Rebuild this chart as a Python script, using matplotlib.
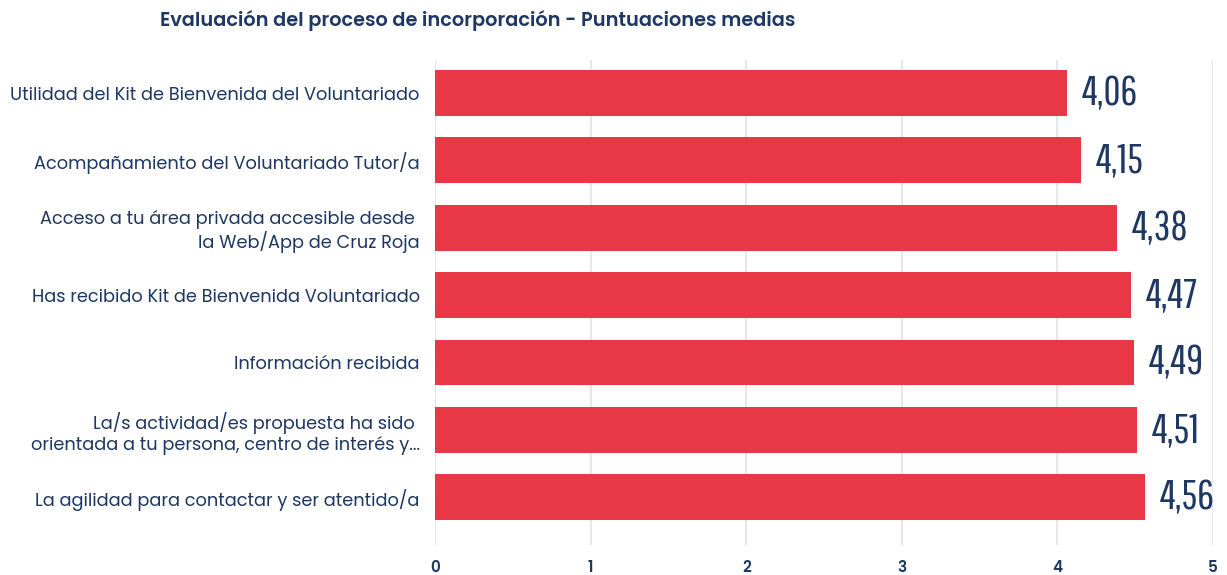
import matplotlib
matplotlib.use("Agg")
import matplotlib.pyplot as plt
import numpy as np

categories = [
    "Utilidad del Kit de Bienvenida del Voluntariado",
    "Acompañamiento del Voluntariado Tutor/a",
    "Acceso a tu área privada accesible desde \nla Web/App de Cruz Roja",
    "Has recibido Kit de Bienvenida Voluntariado",
    "Información recibida",
    "La/s actividad/es propuesta ha sido \norientada a tu persona, centro de interés y...",
    "La agilidad para contactar y ser atentido/a",
]
values = [4.06, 4.15, 4.38, 4.47, 4.49, 4.51, 4.56]
value_labels = ["4,06", "4,15", "4,38", "4,47", "4,49", "4,51", "4,56"]
xticks = [0, 1, 2, 3, 4, 5]
title = "Evaluación del proceso de incorporación - Puntuaciones medias"

NAVY = "#1e3763"
RED = "#e83845"
GRID = "#e3e3e3"

MAIN = ['Poppins', 'Open Sans', 'DejaVu Sans']
NUM = ['Saira Extra Condensed', 'Pathway Gothic One', 'Oswald', 'DejaVu Sans']
plt.rcParams['font.family'] = MAIN

fig = plt.figure(figsize=(12.27, 5.75), dpi=100)
ax = fig.add_axes([435/1227, 1-545/575, (1213-435)/1227, (545-60)/575])

y = np.arange(len(categories))
ax.barh(y, values, height=0.68, color=RED, zorder=2)
ax.set_xlim(0, 5)
ax.set_ylim(6.71, -0.49)
ax.set_xticks(xticks)
ax.set_xticklabels([str(t) for t in xticks], fontsize=11, fontweight='semibold', color=NAVY)
ax.set_yticks(y)
ax.set_yticklabels(categories, fontsize=12.8, color=NAVY, linespacing=1.15)
ax.tick_params(axis='x', length=0, pad=11)
ax.tick_params(axis='y', length=0, pad=11)
for s in ax.spines.values():
    s.set_visible(False)
ax.grid(axis='x', color=GRID, linewidth=1.2, zorder=0)
ax.set_axisbelow(True)

for yi, v, lab in zip(y, values, value_labels):
    ax.annotate(lab, xy=(v, yi), xytext=(11, 0), textcoords='offset points',
                ha='left', va='center', fontsize=30, fontweight='light',
                color=NAVY, family=NUM)

fig.text(160/1227, 1-20/575, title, ha='left', va='center', fontsize=13.9,
         fontweight='semibold', color=NAVY)

fig.savefig("out.png", dpi=100)
